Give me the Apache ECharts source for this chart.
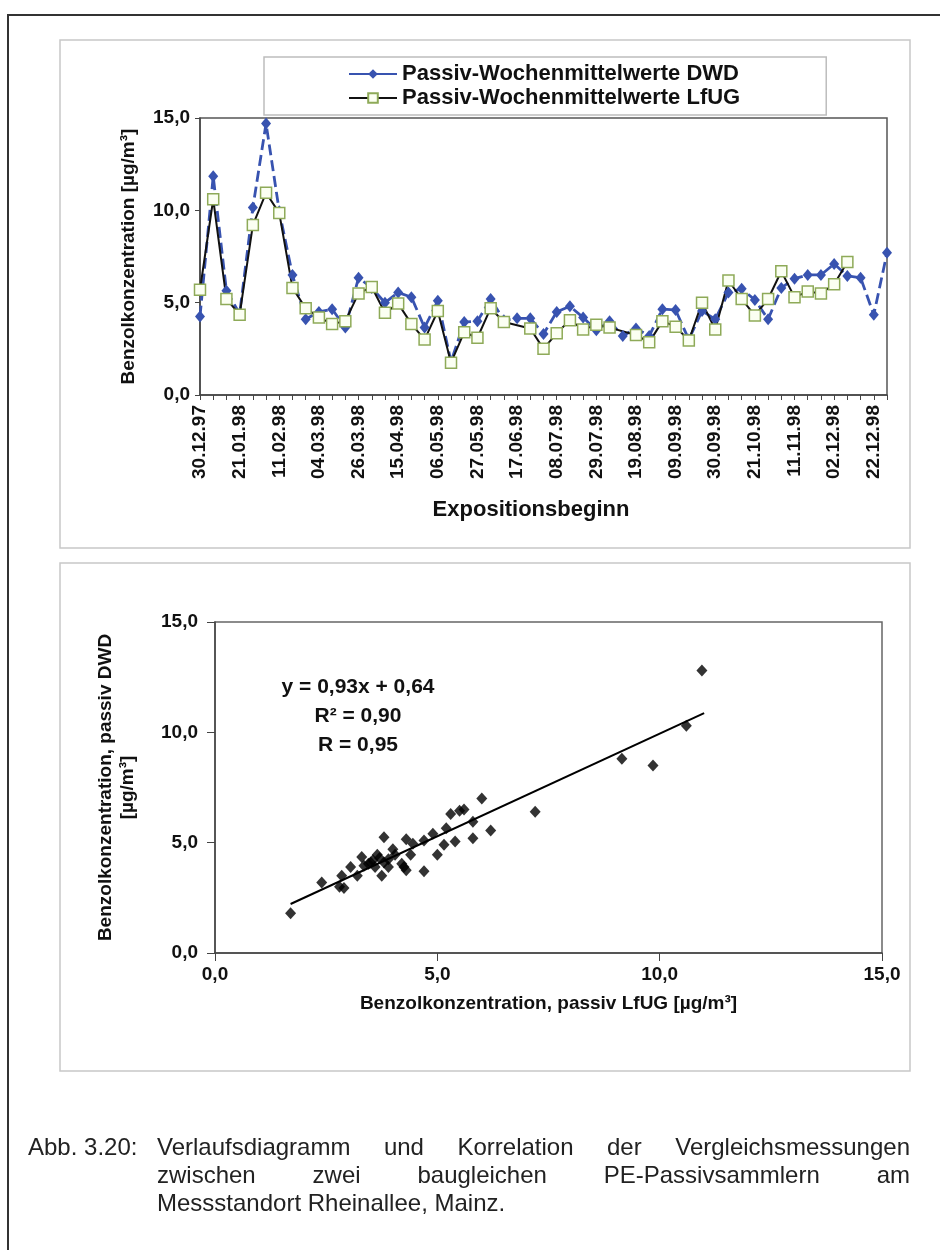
<!DOCTYPE html>
<html>
<head>
<meta charset="utf-8">
<script src="https://cdn.jsdelivr.net/npm/echarts@6/dist/echarts.min.js"></script>
<style>
  html, body { margin: 0; padding: 0; background: #fff; }
  #chart { width: 940px; height: 1250px; }
</style>
</head>
<body>
<div id="chart"></div>
<script>
// weekly exposure start dates (every 3rd one is labelled)
var dates = ['30.12.97', '07.01.98', '14.01.98', '21.01.98', '28.01.98', '04.02.98', '11.02.98',
  '18.02.98', '25.02.98', '04.03.98', '11.03.98', '18.03.98', '26.03.98', '01.04.98', '08.04.98',
  '15.04.98', '22.04.98', '29.04.98', '06.05.98', '13.05.98', '20.05.98', '27.05.98', '03.06.98',
  '10.06.98', '17.06.98', '24.06.98', '01.07.98', '08.07.98', '15.07.98', '22.07.98', '29.07.98',
  '05.08.98', '12.08.98', '19.08.98', '26.08.98', '02.09.98', '09.09.98', '16.09.98', '23.09.98',
  '30.09.98', '07.10.98', '14.10.98', '21.10.98', '28.10.98', '04.11.98', '11.11.98', '18.11.98',
  '25.11.98', '02.12.98', '09.12.98', '16.12.98', '22.12.98', '29.12.98'];

var dwd = [4.25, 11.85, 5.65, 4.4, 10.15, 14.7, 9.95, 6.5, 4.1, 4.5, 4.65, 3.65, 6.35, 5.8,
  5.0, 5.55, 5.3, 3.65, 5.1, 1.8, 3.95, 4.0, 5.2, 4.05, 4.15, 4.15, 3.3, 4.5, 4.8, 4.2, 3.5,
  4.0, 3.2, 3.6, 3.2, 4.65, 4.6, 3.0, 4.55, 4.1, 5.55, 5.75, 5.15, 4.1, 5.8, 6.3, 6.5, 6.5,
  7.1, 6.45, 6.35, 4.35, 7.7];

var lfug = [5.7, 10.6, 5.2, 4.35, 9.2, 10.95, 9.85, 5.8, 4.7, 4.2, 3.85, 4.0, 5.5, 5.85,
  4.45, 4.95, 3.85, 3.0, 4.55, 1.75, 3.4, 3.1, 4.7, 3.95, null, 3.6, 2.5, 3.35, 4.05, 3.55,
  3.8, 3.65, null, 3.25, 2.85, 4.0, 3.7, 2.95, 5.0, 3.55, 6.2, 5.2, 4.3, 5.2, 6.7, 5.3, 5.6,
  5.5, 6.0, 7.2, null, null, null];

// correlation plot: x = passiv LfUG, y = passiv DWD
var scatterLfug = [1.7, 2.4, 2.8, 2.9, 2.85, 3.05, 3.2, 3.3, 3.35, 3.45, 3.5, 3.6, 3.65, 3.7,
  3.75, 3.8, 3.8, 3.9, 4.0, 4.05, 4.2, 4.25, 4.3, 4.3, 4.4, 4.45, 4.7, 4.7, 4.9, 5.0, 5.15,
  5.2, 5.3, 5.4, 5.5, 5.6, 5.8, 5.8, 6.0, 6.2, 7.2, 9.15, 9.85, 10.6, 10.95, 3.55, 3.9];
var scatterDwd = [1.8, 3.2, 3.0, 2.95, 3.5, 3.9, 3.5, 4.35, 3.95, 4.05, 4.1, 3.9, 4.45, 4.3,
  3.5, 5.25, 4.1, 3.9, 4.7, 4.45, 4.05, 3.9, 3.75, 5.15, 4.45, 4.95, 3.7, 5.1, 5.4, 4.45, 4.9,
  5.65, 6.3, 5.05, 6.45, 6.5, 5.95, 5.2, 7.0, 5.55, 6.4, 8.8, 8.5, 10.3, 12.8, 4.2, 4.25];

var regCoef = [0.93, 0.64];   // slope, intercept
var regRange = [1.7, 11.0];
var statText = ['y = 0,93x + 0,64', 'R² = 0,90', 'R = 0,95'];

var seriesNames = ['Passiv-Wochenmittelwerte DWD', 'Passiv-Wochenmittelwerte LfUG'];
var captionLabel = 'Abb. 3.20:';
var captionLines = ['Verlaufsdiagramm und Korrelation der Vergleichsmessungen',
  'zwischen zwei baugleichen PE-Passivsammlern am',
  'Messstandort Rheinallee, Mainz.'];

var FONT = "'Liberation Sans', Arial, sans-serif";
var CAP_FONT = "24px 'Liberation Sans', Arial, sans-serif";

function comma(v) { return v.toFixed(1).replace('.', ','); }

var chart = echarts.init(document.getElementById('chart'));

// justified caption lines, word by word
var measure = document.createElement('canvas').getContext('2d');
measure.font = CAP_FONT;
function captionWords(line, x0, x1, y, justify) {
  var words = line.split(' ');
  var widths = words.map(function (w) { return measure.measureText(w).width; });
  var total = widths.reduce(function (a, b) { return a + b; }, 0);
  var gap = justify ? (x1 - x0 - total) / (words.length - 1) : measure.measureText(' ').width;
  var x = x0;
  return words.map(function (w, i) {
    var el = { type: 'text', x: x, y: y, style: { text: w, font: CAP_FONT, fill: '#222', verticalAlign: 'middle' } };
    x += widths[i] + gap;
    return el;
  });
}

var graphics = [
  { type: 'polyline', shape: { points: [[8, 1260], [8, 15], [950, 15]] }, style: { stroke: '#333', lineWidth: 2, fill: null } },
  { type: 'rect', shape: { x: 60, y: 40, width: 850, height: 508 }, style: { stroke: '#c8c8c8', lineWidth: 1.5, fill: null } },
  { type: 'rect', shape: { x: 60, y: 563, width: 850, height: 508 }, style: { stroke: '#c8c8c8', lineWidth: 1.5, fill: null } },
  { type: 'text', x: 28, y: 1148, style: { text: captionLabel, font: CAP_FONT, fill: '#222', verticalAlign: 'middle' } }
];
statText.forEach(function (t, i) {
  graphics.push({ type: 'text', x: 358, y: 687 + i * 29,
    style: { text: t, font: 'bold 21px ' + FONT, fill: '#111', align: 'center', verticalAlign: 'middle' } });
});
graphics = graphics
  .concat(captionWords(captionLines[0], 157, 910, 1148, true))
  .concat(captionWords(captionLines[1], 157, 910, 1176, true))
  .concat(captionWords(captionLines[2], 157, 910, 1204, false));

var regLine = regRange.map(function (x) { return [x, regCoef[0] * x + regCoef[1]]; });
var scatterData = scatterLfug.map(function (x, i) { return [x, scatterDwd[i]]; });

var option = {
  backgroundColor: '#fff',
  animation: false,
  textStyle: { fontFamily: FONT },
  legend: {
    orient: 'vertical',
    left: 264,
    top: 57,
    padding: [6, 86, 6, 84],
    itemGap: 2,
    itemWidth: 48,
    itemHeight: 12,
    borderColor: '#bdbdbd',
    borderWidth: 1.5,
    textStyle: { fontFamily: FONT, fontWeight: 'bold', fontSize: 22, color: '#111' },
    data: [
      { name: seriesNames[0], lineStyle: { type: 'solid' } },
      { name: seriesNames[1] }
    ]
  },
  grid: [
    { left: 200, top: 118, width: 687, height: 277, show: true, borderColor: '#555', borderWidth: 1.5 },
    { left: 215, top: 622, width: 667, height: 331, show: true, borderColor: '#666', borderWidth: 1.5 }
  ],
  xAxis: [
    {
      gridIndex: 0, type: 'category', data: dates, boundaryGap: false,
      name: 'Expositionsbeginn', nameLocation: 'middle', nameGap: 104,
      nameTextStyle: { fontWeight: 'bold', fontSize: 22, color: '#111', padding: [0, 25, 0, 0] },
      axisLine: { lineStyle: { color: '#444', width: 1.5 } },
      axisTick: { interval: 0, length: 5, lineStyle: { color: '#444' } },
      axisLabel: { interval: 2, rotate: 90, margin: 10, fontWeight: 'bold', fontSize: 19, color: '#111' },
      splitLine: { show: false }
    },
    {
      gridIndex: 1, type: 'value', min: 0, max: 15, interval: 5,
      name: 'Benzolkonzentration, passiv LfUG [µg/m³]', nameLocation: 'middle', nameGap: 41,
      nameTextStyle: { fontWeight: 'bold', fontSize: 19, color: '#111' },
      axisLine: { onZero: false, lineStyle: { color: '#444', width: 1.5 } },
      axisTick: { length: 8, lineStyle: { color: '#444' } },
      axisLabel: { formatter: comma, margin: 12, fontWeight: 'bold', fontSize: 19, color: '#111' },
      splitLine: { show: false }
    }
  ],
  yAxis: [
    {
      gridIndex: 0, type: 'value', min: 0, max: 15, interval: 5,
      name: 'Benzolkonzentration [µg/m³]', nameLocation: 'middle', nameGap: 62,
      nameTextStyle: { fontWeight: 'bold', fontSize: 19, color: '#111' },
      axisLine: { show: true, lineStyle: { color: '#444', width: 1.5 } },
      axisTick: { show: true, length: 5, lineStyle: { color: '#444' } },
      axisLabel: { formatter: comma, margin: 10, fontWeight: 'bold', fontSize: 19, color: '#111' },
      splitLine: { show: false }
    },
    {
      gridIndex: 1, type: 'value', min: 0, max: 15, interval: 5,
      name: 'Benzolkonzentration, passiv DWD\n[µg/m³]', nameLocation: 'middle', nameGap: 76,
      nameTextStyle: { fontWeight: 'bold', fontSize: 19, color: '#111', lineHeight: 22 },
      axisLine: { show: true, onZero: false, lineStyle: { color: '#444', width: 1.5 } },
      axisTick: { show: true, length: 8, lineStyle: { color: '#444' } },
      axisLabel: { formatter: comma, margin: 17, fontWeight: 'bold', fontSize: 19, color: '#111' },
      splitLine: { show: false }
    }
  ],
  series: [
    {
      name: seriesNames[0], type: 'line', xAxisIndex: 0, yAxisIndex: 0, data: dwd,
      symbol: 'diamond', symbolSize: [10, 12], showAllSymbol: true,
      lineStyle: { color: '#3853b0', width: 2.8, type: [11, 5] },
      itemStyle: { color: '#3853b0' }
    },
    {
      name: seriesNames[1], type: 'line', xAxisIndex: 0, yAxisIndex: 0, data: lfug,
      connectNulls: true, symbol: 'rect', symbolSize: 11, showAllSymbol: true,
      lineStyle: { color: '#111', width: 2 },
      itemStyle: { color: '#fbfff2', borderColor: '#8eaa58', borderWidth: 1.5 }
    },
    {
      type: 'scatter', xAxisIndex: 1, yAxisIndex: 1, data: scatterData,
      symbol: 'diamond', symbolSize: [11, 12], itemStyle: { color: '#000' }
    },
    {
      type: 'line', xAxisIndex: 1, yAxisIndex: 1, data: regLine, symbol: 'none',
      lineStyle: { color: '#000', width: 2 }
    }
  ],
  graphic: graphics
};

chart.setOption(option);
</script>
</body>
</html>
